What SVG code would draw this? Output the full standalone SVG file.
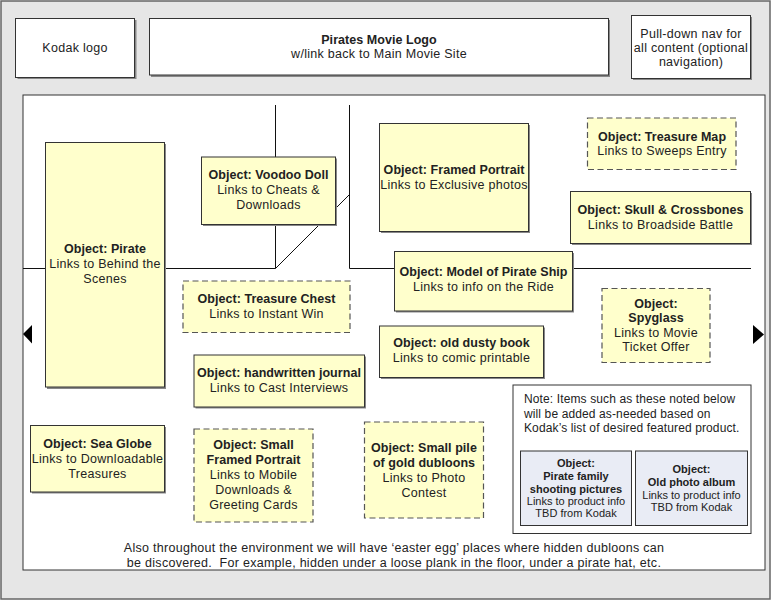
<svg xmlns="http://www.w3.org/2000/svg" width="774" height="601" viewBox="0 0 774 601">
<style>
text{font-family:"Liberation Sans",Arial,sans-serif;font-size:12.5px;letter-spacing:0.28px;fill:#222;text-anchor:middle}
.b{font-weight:bold;letter-spacing:0.05px}
.sm{font-size:11px;letter-spacing:0}
.l{text-anchor:start;font-size:12px;letter-spacing:0.12px}
.hdr{fill:#fff;stroke:#333;stroke-width:1}
.obj{fill:#ffffcc;stroke:#333;stroke-width:1}
.dash{fill:#ffffcc;stroke:#555;stroke-width:1.2;stroke-dasharray:6,3.5}
.sh{fill:#888}
.blue{fill:#e9ecf5;stroke:#333;stroke-width:1}
.wall{stroke:#111;stroke-width:1;fill:none}
</style>
<rect x="1" y="1" width="769" height="598" fill="#e6e6e6" stroke="#666" stroke-width="1.5"/>
<g id="kodak-logo">
<rect class="sh" x="17.5" y="20" width="119" height="59"/>
<rect class="hdr" x="15.5" y="18.5" width="119" height="59"/>
<text x="75" y="51.5">Kodak logo</text>
</g>
<g id="pirates-logo">
<rect class="sh" x="151" y="20" width="459" height="57"/>
<rect class="hdr" x="149.5" y="18.5" width="459" height="56.5"/>
<text x="379" y="43.5" class="b">Pirates Movie Logo</text>
<text x="379" y="58">w/link back to Main Movie Site</text>
</g>
<g id="pulldown-nav">
<rect class="sh" x="633" y="17" width="119" height="63"/>
<rect class="hdr" x="631.5" y="15.5" width="119" height="63"/>
<text x="691" y="37.5">Pull-down nav for</text>
<text x="691" y="51.5">all content (optional</text>
<text x="691" y="65.5">navigation)</text>
</g>
<rect id="main-panel" x="23" y="95" width="742" height="475" fill="#fff" stroke="#333" stroke-width="1"/>
<g id="connectors">
<path class="wall" d="M275.5 105 V268.5 H23 M349.5 105 V268.5 H751 M275.5 268.5 L349.5 194.5"/>
</g>
<g id="left-arrow"><polygon points="23,334 32,325 32,343.5" fill="#000"/></g>
<g id="right-arrow"><polygon points="753,325 753,344 764,334.5" fill="#000"/></g>
<g id="pirate">
<rect class="sh" x="47" y="144" width="119" height="245"/>
<rect class="obj" x="45.5" y="142.5" width="119" height="244.5"/>
<text x="105" y="253" class="b">Object: Pirate</text>
<text x="105" y="268">Links to Behind the</text>
<text x="105" y="283">Scenes</text>
</g>
<g id="voodoo-doll">
<rect class="sh" x="203" y="158.5" width="134" height="67.5"/>
<rect class="obj" x="201.5" y="157" width="134" height="67.5"/>
<text x="268.5" y="179" class="b">Object: Voodoo Doll</text>
<text x="268.5" y="194">Links to Cheats &amp;</text>
<text x="268.5" y="209">Downloads</text>
</g>
<g id="framed-portrait">
<rect class="sh" x="381" y="125" width="149" height="108"/>
<rect class="obj" x="379.5" y="123.5" width="149" height="108"/>
<text x="454" y="174" class="b">Object: Framed Portrait</text>
<text x="454" y="188.5">Links to Exclusive photos</text>
</g>
<g id="treasure-map">
<rect class="dash" x="587.5" y="118" width="148.5" height="51.5"/>
<text x="662" y="140.5" class="b">Object: Treasure Map</text>
<text x="662" y="155">Links to Sweeps Entry</text>
</g>
<g id="skull-crossbones">
<rect class="sh" x="572" y="193" width="180" height="52"/>
<rect class="obj" x="570.5" y="191.5" width="180" height="52"/>
<text x="660.5" y="214" class="b">Object: Skull &amp; Crossbones</text>
<text x="660.5" y="228.5">Links to Broadside Battle</text>
</g>
<g id="pirate-ship">
<rect class="sh" x="396" y="253" width="178" height="59.5"/>
<rect class="obj" x="394.5" y="251.5" width="178" height="59.5"/>
<text x="483.5" y="276" class="b">Object: Model of Pirate Ship</text>
<text x="483.5" y="291">Links to info on the Ride</text>
</g>
<g id="treasure-chest">
<rect class="dash" x="183" y="281" width="167" height="51.5"/>
<text x="266.5" y="303" class="b">Object: Treasure Chest</text>
<text x="266.5" y="317.5">Links to Instant Win</text>
</g>
<g id="spyglass">
<rect class="dash" x="602" y="288.5" width="108" height="74"/>
<text x="656" y="307.5" class="b">Object:</text>
<text x="656" y="322" class="b">Spyglass</text>
<text x="656" y="336.5">Links to Movie</text>
<text x="656" y="351">Ticket Offer</text>
</g>
<g id="old-dusty-book">
<rect class="sh" x="381" y="327.5" width="164" height="51.5"/>
<rect class="obj" x="379.5" y="326" width="164" height="51.5"/>
<text x="461.5" y="347" class="b">Object: old dusty book</text>
<text x="461.5" y="362">Links to comic printable</text>
</g>
<g id="handwritten-journal">
<rect class="sh" x="195.5" y="356.5" width="170.5" height="52"/>
<rect class="obj" x="194" y="355" width="170.5" height="52"/>
<text x="279" y="377" class="b">Object: handwritten journal</text>
<text x="279" y="392">Links to Cast Interviews</text>
</g>
<g id="note">
<rect x="513" y="385" width="238" height="148.5" fill="#fff" stroke="#333" stroke-width="1"/>
<text x="524" y="403" class="l">Note: Items such as these noted below</text>
<text x="524" y="417.5" class="l">will be added as-needed based on</text>
<text x="524" y="432" class="l">Kodak’s list of desired featured product.</text>
</g>
<g id="pirate-family">
<rect class="blue" x="520.5" y="451" width="111" height="74.5"/>
<text x="576" y="466.5" class="b sm">Object:</text>
<text x="576" y="479.5" class="b sm">Pirate family</text>
<text x="576" y="492.5" class="b sm">shooting pictures</text>
<text x="576" y="505" class="sm">Links to product info</text>
<text x="576" y="517" class="sm">TBD from Kodak</text>
</g>
<g id="photo-album">
<rect class="blue" x="635.5" y="451" width="112" height="74.5"/>
<text x="691.5" y="473" class="b sm">Object:</text>
<text x="691.5" y="486" class="b sm">Old photo album</text>
<text x="691.5" y="499" class="sm">Links to product info</text>
<text x="691.5" y="511" class="sm">TBD from Kodak</text>
</g>
<g id="sea-globe">
<rect class="sh" x="32" y="427" width="134" height="66.5"/>
<rect class="obj" x="30.5" y="425.5" width="134" height="66.5"/>
<text x="97.5" y="447.5" class="b">Object: Sea Globe</text>
<text x="97.5" y="462.5">Links to Downloadable</text>
<text x="97.5" y="477.5">Treasures</text>
</g>
<g id="small-framed-portrait">
<rect class="dash" x="194" y="429" width="119" height="93"/>
<text x="253.5" y="449" class="b">Object: Small</text>
<text x="253.5" y="464" class="b">Framed Portrait</text>
<text x="253.5" y="479">Links to Mobile</text>
<text x="253.5" y="494">Downloads &amp;</text>
<text x="253.5" y="509">Greeting Cards</text>
</g>
<g id="gold-dubloons">
<rect class="dash" x="364.5" y="422" width="119" height="96"/>
<text x="424" y="452" class="b">Object: Small pile</text>
<text x="424" y="466.5" class="b">of gold dubloons</text>
<text x="424" y="481.5">Links to Photo</text>
<text x="424" y="496.5">Contest</text>
</g>
<g id="easter-egg-note">
<text x="394" y="551.5">Also throughout the environment we will have ‘easter egg’ places where hidden dubloons can</text>
<text x="394" y="566.5" xml:space="preserve">be discovered.  For example, hidden under a loose plank in the floor, under a pirate hat, etc.</text>
</g>
</svg>
